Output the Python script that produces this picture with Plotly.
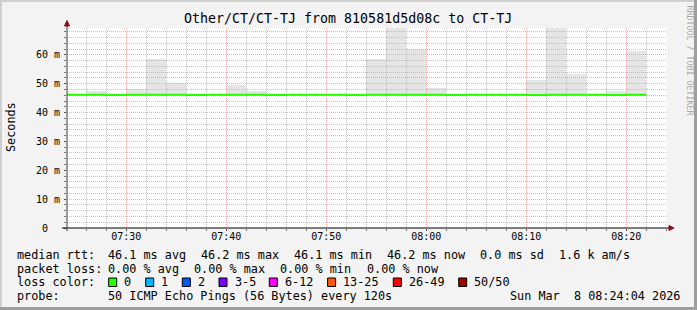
import plotly.graph_objects as go
import pandas as pd

# ---------------- data ----------------
title_text = "Other/CT/CT-TJ from 810581d5d08c to CT-TJ"
bin_start = list(pd.date_range("2026-03-08 07:24", "2026-03-08 08:20", freq="2min"))
median_ms = [46.2, 46.2, 46.1, 46.2, 46.2, 46.2, 46.1, 46.2, 46.2, 46.2,
             46.1, 46.2, 46.2, 46.2, 46.1, 46.2, 46.2, 46.2, 46.2, 46.1,
             46.2, 46.2, 46.2, 46.1, 46.2, 46.2, 46.2, 46.1, 46.2]
smoke_top_ms = [46.6, 47.3, 46.6, 48.0, 58.5, 50.2, 46.6, 46.6, 49.7, 47.3,
                46.6, 46.6, 46.6, 46.6, 46.6, 58.5, 75.0, 62.0, 48.5, 46.6,
                46.6, 46.6, 46.6, 51.3, 75.0, 53.3, 46.6, 47.3, 61.5]
smoke_bottom_ms = [45.8, 45.8, 45.8, 45.8, 45.7, 45.8, 45.8, 45.8, 45.8, 45.8,
                   45.8, 45.8, 45.8, 45.8, 45.8, 45.7, 45.6, 45.7, 45.8, 45.8,
                   45.8, 45.8, 45.8, 45.8, 45.6, 45.7, 45.8, 45.8, 45.7]
data_end = pd.Timestamp("2026-03-08 08:22")
view_start = "2026-03-08 07:24:04"
view_end = "2026-03-08 08:24:04"

x_tick_vals = list(pd.date_range("2026-03-08 07:30", "2026-03-08 08:20", freq="10min"))
x_tick_text = ["07:30", "07:40", "07:50", "08:00", "08:10", "08:20"]
y_tick_vals = [0, 10, 20, 30, 40, 50, 60]
y_tick_text = ["0\u00a0\u00a0", "10 m", "20 m", "30 m", "40 m", "50 m", "60 m"]
y_max = 69.3

stats_row1 = ["median rtt:", "46.1 ms avg", "46.2 ms max", "46.1 ms min",
              "46.2 ms now", "0.0 ms sd", "1.6 k am/s"]
stats_row2 = ["packet loss:", "0.00 % avg", "0.00 % max", "0.00 % min", "0.00 % now"]
loss_labels = ["0", "1", "2", "3-5", "6-12", "13-25", "26-49", "50/50"]
loss_colors = ["#26ff00", "#00b8ff", "#0059ff", "#7e00ff", "#ff00ff",
               "#ff5500", "#ff0000", "#a10000"]
probe_text = ["probe:", "50 ICMP Echo Pings (56 Bytes) every 120s"]
date_text = "Sun Mar\u00a0\u00a08 08:24:04 2026"
watermark = "RRDTOOL / TOBI OETIKER"

# ---------------- layout helpers ----------------
W, H = 697, 310
PL, PR, PT, PB = 67, 667, 28, 228
def px(x):
    return (x - PL) / (PR - PL)
def py(y):
    return (PB - y) / (PB - PT)

MONO = "DejaVu Sans Mono"
FS = 11.8

fig = go.Figure()

# smoke
bin_center = [t + pd.Timedelta(minutes=1) for t in bin_start]
fig.add_trace(go.Bar(
    x=bin_center,
    y=[t - b for t, b in zip(smoke_top_ms, smoke_bottom_ms)],
    base=smoke_bottom_ms,
    width=120000,
    marker=dict(color="rgba(175,175,175,0.33)", line=dict(width=0)),
    hoverinfo="skip", showlegend=False,
))

# median line (step)
fig.add_trace(go.Scatter(
    x=bin_start + [data_end],
    y=median_ms + [median_ms[-1]],
    mode="lines", line=dict(color="#26ff00", width=2, shape="hv"),
    hoverinfo="skip", showlegend=False,
))

grid_minor = "#c4c4c4"
grid_major = "#f4b0b0"

fig.update_layout(
    width=W, height=H,
    margin=dict(l=PL, r=W - PR, t=PT, b=H - PB, pad=0),
    paper_bgcolor="#f3f3f3", plot_bgcolor="#ffffff",
    bargap=0, showlegend=False,
    font=dict(family=MONO, size=10, color="#000000"),
    xaxis=dict(
        type="date", range=[view_start, view_end],
        tickmode="array", tickvals=x_tick_vals, ticktext=x_tick_text,
        showgrid=True, gridcolor=grid_major, griddash="1px,1px", gridwidth=1,
        ticks="outside", ticklen=2, tickcolor="#555555",
        ticklabelstandoff=-3,
        tickfont=dict(family=MONO, size=10, color="#000000"),
        showline=False, zeroline=False, fixedrange=True,
        minor=dict(dtick=120000, tick0="2026-03-08 07:24", showgrid=True,
                   gridcolor=grid_minor, griddash="1px,1px", gridwidth=1,
                   ticks="outside", ticklen=2, tickcolor="#777777"),
    ),
    yaxis=dict(
        range=[0, y_max],
        tickmode="array", tickvals=y_tick_vals, ticktext=y_tick_text,
        showgrid=True, gridcolor=grid_major, griddash="1px,1px", gridwidth=1,
        ticks="outside", ticklen=2, tickcolor="#555555",
        ticklabelstandoff=2,
        tickfont=dict(family=MONO, size=10, color="#000000"),
        showline=False, zeroline=False, fixedrange=True,
        minor=dict(dtick=2, tick0=0, showgrid=True,
                   gridcolor=grid_minor, griddash="1px,1px", gridwidth=1,
                   ticks="outside", ticklen=2, tickcolor="#777777"),
    ),
)

shapes = []
# axis lines
shapes.append(dict(type="line", xref="paper", yref="paper",
                   x0=px(62), x1=px(670), y0=0, y1=0,
                   line=dict(color="#000000", width=1), layer="above"))
shapes.append(dict(type="line", xref="paper", yref="paper",
                   x0=0, x1=0, y0=py(231), y1=py(23),
                   line=dict(color="#404040", width=1), layer="above"))
# arrows
arrow_col = "#8b1010"
shapes.append(dict(type="path", xref="paper", yref="paper",
                   path=f"M {px(669)},{py(225.5)} L {px(674)},{py(228)} L {px(669)},{py(230.5)} Z",
                   fillcolor=arrow_col, line=dict(color=arrow_col, width=1), layer="above"))
shapes.append(dict(type="path", xref="paper", yref="paper",
                   path=f"M {px(64.5)},{py(26)} L {px(67)},{py(20.5)} L {px(69.5)},{py(26)} Z",
                   fillcolor=arrow_col, line=dict(color=arrow_col, width=1), layer="above"))
# frame shading
shapes.append(dict(type="rect", xref="paper", yref="paper",
                   x0=px(0), x1=px(2), y0=py(310), y1=py(0),
                   fillcolor="#cfcfcf", line=dict(width=0), layer="above"))
shapes.append(dict(type="rect", xref="paper", yref="paper",
                   x0=px(0), x1=px(697), y0=py(2), y1=py(0),
                   fillcolor="#cfcfcf", line=dict(width=0), layer="above"))
shapes.append(dict(type="rect", xref="paper", yref="paper",
                   x0=px(694), x1=px(697), y0=py(310), y1=py(0),
                   fillcolor="#9e9e9e", line=dict(width=0), layer="above"))
shapes.append(dict(type="rect", xref="paper", yref="paper",
                   x0=px(0), x1=px(697), y0=py(310), y1=py(307),
                   fillcolor="#9e9e9e", line=dict(width=0), layer="above"))

# loss colour squares
sq_left = [108.7, 145.7, 182.3, 219.0, 269.3, 327.6, 393.3, 458.7]
for xl, col in zip(sq_left, loss_colors):
    shapes.append(dict(type="rect", xref="paper", yref="paper",
                       x0=px(xl), x1=px(xl + 8), y0=py(286.5), y1=py(278),
                       fillcolor=col, line=dict(color="#000000", width=1), layer="above"))

annotations = []
def txt(x, y, s, size=FS, anchor="left", color="#000000", angle=0, yanchor="middle"):
    annotations.append(dict(xref="paper", yref="paper", x=px(x), y=py(y), text=s,
                            showarrow=False, xanchor=anchor, yanchor=yanchor,
                            textangle=angle, borderpad=0,
                            font=dict(family=MONO, size=size, color=color)))

txt(348, 18.5, title_text.replace(" ", "\u00a0"), size=13.3, anchor="center")
txt(10.5, 127.5, "Seconds", size=FS, anchor="center", angle=-90)
txt(689.5, 60, watermark.replace(" ", "\u00a0"), size=8.3, anchor="center", angle=90, color="#a8a8a8")

row1_x = [16, 107.3, 200, 292.7, 386, 479.3, 558.3]
for x, s in zip(row1_x, stats_row1):
    txt(x, 254.5, s.replace(" ", "\u00a0"))
row2_x = [16, 107.3, 193.3, 279.3, 365.7]
for x, s in zip(row2_x, stats_row2):
    txt(x, 268.5, s.replace(" ", "\u00a0"))
txt(16, 282.3, "loss\u00a0color:")
for xl, s in zip(sq_left, loss_labels):
    txt(xl + 14.7, 282.3, s)
txt(16, 296.2, probe_text[0])
txt(107.3, 296.2, probe_text[1].replace(" ", "\u00a0"))
txt(681, 296.2, date_text, anchor="right")

fig.update_layout(shapes=shapes, annotations=annotations)
fig.write_html("out.html")
